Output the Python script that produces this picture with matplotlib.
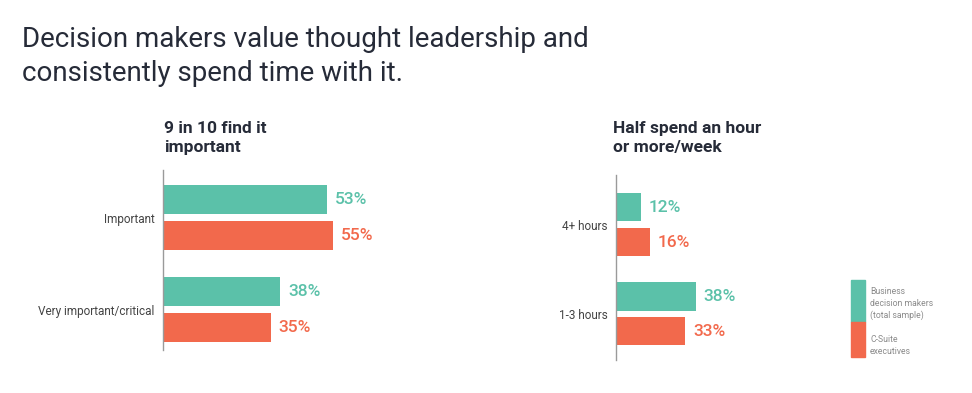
import matplotlib.pyplot as plt
from matplotlib.patches import Rectangle

# data
left_cats = ['Important', 'Very important/critical']
left_bdm = [53, 38]
left_csuite = [55, 35]

right_cats = ['4+ hours', '1-3 hours']
right_bdm = [12, 38]
right_csuite = [16, 33]

legend_labels = ['Business\ndecision makers\n(total sample)', 'C-Suite\nexecutives']

green = '#5bc1a9'
red = '#f2694c'
label_color = '#444444'
title_color = '#262b38'

plt.rcParams['font.family'] = ['Roboto', 'DejaVu Sans']

W, H = 972, 393
fig = plt.figure(figsize=(W / 100, H / 100), dpi=100)


def px_axes(x0, y0, w, h):
    # pixel box (top-left origin) -> figure axes
    return fig.add_axes([x0 / W, 1 - (y0 + h) / H, w / W, h / H])


def draw_panel(ax, cats, bdm, cs, ylim):
    pos = list(range(len(cats)))
    off = 0.196
    bh = 0.315
    ax.barh([p - off for p in pos], bdm, height=bh, color=green)
    ax.barh([p + off for p in pos], cs, height=bh, color=red)
    for p, v in zip(pos, bdm):
        ax.annotate(f'{v}%', (v, p - off), xytext=(5.5, 0), textcoords='offset points',
                    color=green, fontsize=12.5, fontweight='medium', va='center', ha='left')
    for p, v in zip(pos, cs):
        ax.annotate(f'{v}%', (v, p + off), xytext=(5.5, 0), textcoords='offset points',
                    color=red, fontsize=12.5, fontweight='medium', va='center', ha='left')
    ax.set_xlim(0, 100)
    ax.set_ylim(*ylim)
    ax.set_yticks(pos)
    ax.set_yticklabels(cats, fontsize=8.5, color=label_color)
    ax.tick_params(axis='y', length=0, pad=6)
    ax.set_xticks([])
    for s in ['top', 'right', 'bottom']:
        ax.spines[s].set_visible(False)
    ax.spines['left'].set_color('#9a9a9a')
    ax.spines['left'].set_linewidth(1.0)
    ax.patch.set_alpha(0)


# left panel: axis at x=163, 3.09 px per %
ax1 = px_axes(163, 170, 309, 180)
draw_panel(ax1, left_cats, left_bdm, left_csuite, (1.435, -0.52))

# right panel: axis at x=616, 2.1 px per %
ax2 = px_axes(616, 175, 210, 185)
draw_panel(ax2, right_cats, right_bdm, right_csuite, (1.517, -0.56))

# titles
fig.text(22 / W, 1 - 81 / H, 'Decision makers value thought leadership and\nconsistently spend time with it.',
         fontsize=20, color=title_color, ha='left', va='baseline', linespacing=1.32)
fig.text(164 / W, 1 - 152 / H, '9 in 10 find it\nimportant', fontsize=12.5, fontweight='bold',
         color=title_color, ha='left', va='baseline', linespacing=1.3)
fig.text(613 / W, 1 - 152 / H, 'Half spend an hour\nor more/week', fontsize=12.5, fontweight='bold',
         color=title_color, ha='left', va='baseline', linespacing=1.3)

# legend
fig.patches.append(Rectangle((851 / W, 1 - 322 / H), 14 / W, 42 / H, transform=fig.transFigure,
                             color=green, figure=fig))
fig.patches.append(Rectangle((851 / W, 1 - 357 / H), 14 / W, 35 / H, transform=fig.transFigure,
                             color=red, figure=fig))
fig.text(870 / W, 1 - 287 / H, legend_labels[0], fontsize=6.2, color='#8a8a8a',
         ha='left', va='top', linespacing=1.4)
fig.text(870 / W, 1 - 335 / H, legend_labels[1], fontsize=6.2, color='#8a8a8a',
         ha='left', va='top', linespacing=1.4)

fig.savefig('out.png', dpi=100)
